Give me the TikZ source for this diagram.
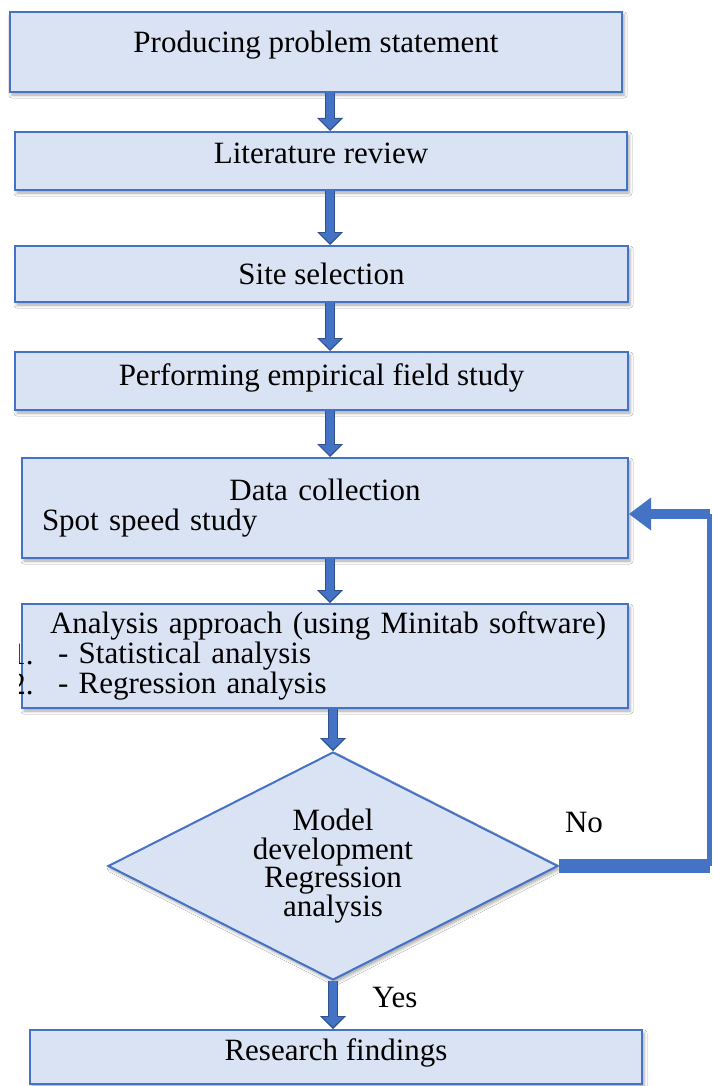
\documentclass[tikz,border=0pt]{standalone}
\usepackage{fontspec}
\setmainfont{Liberation Serif}
\usetikzlibrary{calc}
\usetikzlibrary{positioning}
\usetikzlibrary{shapes.geometric}
\usetikzlibrary{arrows.meta}
\usetikzlibrary{shadows.blur}

\definecolor{boxfill}{HTML}{DAE3F3}
\definecolor{boxline}{HTML}{4472C4}
\definecolor{arrowline}{HTML}{2F528F}

\tikzset{
  stage/.style={draw=boxline,line width=1pt,fill=boxfill,inner sep=0pt,
    blur shadow={shadow xshift=1pt,shadow yshift=-1.5pt,shadow blur radius=1.5pt,shadow opacity=35},
    font=\fontsize{15.5}{15}\selectfont},
  decision/.style={diamond,aspect=2,draw=boxline,line width=1pt,fill=boxfill,inner sep=0pt,
    blur shadow={shadow xshift=1pt,shadow yshift=-1.5pt,shadow blur radius=1.5pt,shadow opacity=35},
    align=center,font=\fontsize{15.5}{14.2}\selectfont},
  flow/.style={draw=arrowline,line width=5pt,-{Triangle[length=6.5pt,width=13pt,line width=0pt]},
    postaction={draw=boxline,line width=3.6pt,shorten >=1pt,-{Triangle[length=5pt,width=10.5pt,line width=0pt]}}},
  back/.style={draw=boxline},
  lbl/.style={font=\fontsize{15.5}{15}\selectfont,inner sep=0pt}
}

\begin{document}
\begin{tikzpicture}[x=0.5pt,y=-0.5pt]
\useasboundingbox (0,0) rectangle (712,1086);
\fill[white] (0,0) rectangle (712,1086);

\node[stage,minimum width=306pt,minimum height=40pt,text depth=10pt] (b1) at (316,52) {Producing problem statement};
\node[stage,minimum width=306pt,minimum height=29pt,text depth=8pt] (b2) at (321,161) {Literature review};
\node[stage,minimum width=306.5pt,minimum height=28pt] (b3) at (321.5,274) {Site selection};
\node[stage,minimum width=306.5pt,minimum height=29pt,text depth=6pt] (b4) at (321.5,381) {Performing empirical field study};
\node[stage,minimum width=303pt,minimum height=50pt,text width=283pt,inner xsep=10pt,align=left] (b5) at (325,508)
  {\makebox[\linewidth]{Data collection}\\Spot speed study};
\node[stage,minimum width=303pt,minimum height=52pt,text width=275pt,inner xsep=14pt,align=left] (b6) at (325,656)
  {\makebox[\linewidth][l]{Analysis approach (using Minitab software)}\\\hspace*{4pt}- Statistical analysis\\\hspace*{4pt}- Regression analysis};
\node[decision,minimum width=225pt,minimum height=114pt] (dm) at (333,866) {Model\\development\\Regression\\analysis};
\node[stage,minimum width=306pt,minimum height=27pt,text depth=7.5pt] (b7) at (336,1057) {Research findings};

% list numbers, cut at the left
\begin{scope}
\clip (19,600) rectangle (60,710);
\node[lbl,anchor=base east] (n1) at (34,664) {1.};
\node[lbl,anchor=base east] (n2) at (34,694) {2.};
\end{scope}

% main flow
\coordinate (spine) at (330,0);
\foreach \a/\b in {b1/b2,b2/b3,b3/b4,b4/b5,b5/b6}
  \draw[flow] (\a.south -| spine) -- (\b.north -| spine);
\draw[flow] (b6.south -| dm.north) -- (dm.north);
\draw[flow] (dm.south) -- (dm.south |- b7.north);

% loop back
\coordinate (rc) at (709.5,866);
\coordinate (rt) at (709.5,514);
\draw[back,line width=7pt] (dm.east) -- (rc);
\draw[back,line width=2.5pt] (rc) -- (rt);
\draw[back,line width=5pt,-{Triangle[length=11pt,width=16.5pt,line width=0pt]}] (rt) -- (rt -| b5.east);

\node[lbl] (no) at (584,822) {No};
\node[lbl] (yes) at (395,997) {Yes};
\end{tikzpicture}
\end{document}
